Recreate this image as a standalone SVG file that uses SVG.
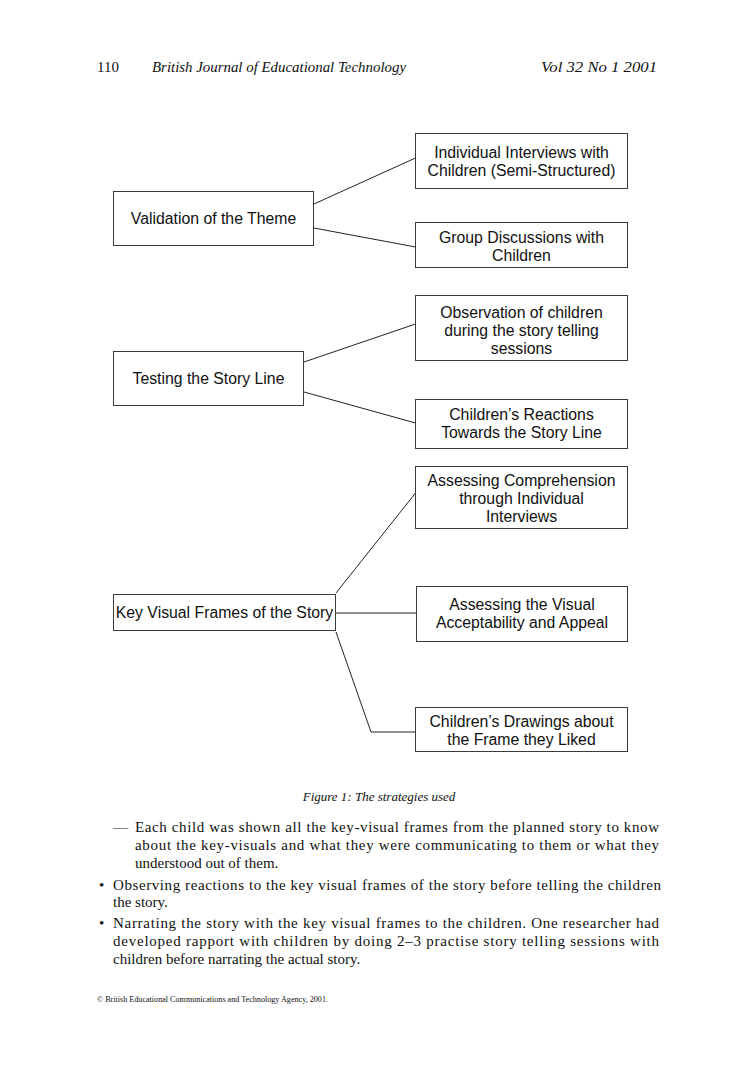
<svg xmlns="http://www.w3.org/2000/svg" width="754" height="1084" viewBox="0 0 754 1084">
<style>
.box{fill:#fff;stroke:#3a3a3a;stroke-width:1}
.lbl{font-family:"Liberation Sans",Arial,sans-serif;font-size:15.8px;fill:#111;text-anchor:middle}
.con{fill:none;stroke:#222;stroke-width:1}
.hd{font-family:"Liberation Serif","Times New Roman",serif;font-size:15px;fill:#111}
.it{font-style:italic}
.body{font-family:"Liberation Serif","Times New Roman",serif;font-size:15px;fill:#111}
</style>
<rect width="754" height="1084" fill="#fff"/>
<g id="header">
<text class="hd" x="97" y="72">110</text>
<text class="hd it" x="152" y="72" textLength="254" lengthAdjust="spacingAndGlyphs">British Journal of Educational Technology</text>
<text class="hd it" x="541" y="72" textLength="116" lengthAdjust="spacingAndGlyphs">Vol 32 No 1 2001</text>
</g>
<g id="connectors">
<line class="con" x1="314" y1="204" x2="415.5" y2="158"/>
<line class="con" x1="314" y1="228" x2="415.5" y2="247"/>
<line class="con" x1="304" y1="362" x2="415.5" y2="324"/>
<line class="con" x1="304" y1="392" x2="415.5" y2="423"/>
<line class="con" x1="336" y1="593" x2="415.5" y2="493"/>
<line class="con" x1="336" y1="613" x2="416.5" y2="613"/>
<polyline class="con" points="336,632 371,732 415.5,732"/>
</g>
<g id="n-validation">
<rect class="box" x="113.5" y="191.5" width="200" height="54"/>
<text class="lbl" x="213.5" y="224">Validation of the Theme</text>
</g>
<g id="n-individual">
<rect class="box" x="415.5" y="133.5" width="212" height="55"/>
<text class="lbl" x="521.5" y="158">Individual Interviews with</text>
<text class="lbl" x="521.5" y="176">Children (Semi-Structured)</text>
</g>
<g id="n-group">
<rect class="box" x="415.5" y="222.5" width="212" height="45"/>
<text class="lbl" x="521.5" y="243">Group Discussions with</text>
<text class="lbl" x="521.5" y="261">Children</text>
</g>
<g id="n-testing">
<rect class="box" x="113.5" y="351.5" width="190" height="54"/>
<text class="lbl" x="208.5" y="384">Testing the Story Line</text>
</g>
<g id="n-observation">
<rect class="box" x="415.5" y="295.5" width="212" height="65"/>
<text class="lbl" x="521.5" y="318">Observation of children</text>
<text class="lbl" x="521.5" y="336">during the story telling</text>
<text class="lbl" x="521.5" y="354">sessions</text>
</g>
<g id="n-reactions">
<rect class="box" x="415.5" y="399.5" width="212" height="49"/>
<text class="lbl" x="521.5" y="420">Children’s Reactions</text>
<text class="lbl" x="521.5" y="438">Towards the Story Line</text>
</g>
<g id="n-keyvisual">
<rect class="box" x="113.5" y="594.5" width="222" height="36"/>
<text class="lbl" x="224.5" y="618">Key Visual Frames of the Story</text>
</g>
<g id="n-comprehension">
<rect class="box" x="415.5" y="466.5" width="212" height="62"/>
<text class="lbl" x="521.5" y="486">Assessing Comprehension</text>
<text class="lbl" x="521.5" y="504">through Individual</text>
<text class="lbl" x="521.5" y="522">Interviews</text>
</g>
<g id="n-visual">
<rect class="box" x="416.5" y="586.5" width="211" height="55"/>
<text class="lbl" x="522" y="610">Assessing the Visual</text>
<text class="lbl" x="522" y="628">Acceptability and Appeal</text>
</g>
<g id="n-drawings">
<rect class="box" x="415.5" y="707.5" width="212" height="44"/>
<text class="lbl" x="521.5" y="727">Children’s Drawings about</text>
<text class="lbl" x="521.5" y="745">the Frame they Liked</text>
</g>
<g id="caption">
<text class="body it" x="379" y="801" text-anchor="middle" style="font-size:13px">Figure 1:  The strategies used</text>
</g>
<g id="body-text">
<text class="body" x="113" y="832">—</text>
<text class="body" x="135" y="832" textLength="524" lengthAdjust="spacing">Each child was shown all the key-visual frames from the planned story to know</text>
<text class="body" x="135" y="850" textLength="524" lengthAdjust="spacing">about the key-visuals and what they were communicating to them or what they</text>
<text class="body" x="135" y="868">understood out of them.</text>
<text class="body" x="99" y="890">•</text>
<text class="body" x="113" y="890" textLength="548" lengthAdjust="spacing">Observing reactions to the key visual frames of the story before telling the children</text>
<text class="body" x="113" y="907">the story.</text>
<text class="body" x="99" y="928">•</text>
<text class="body" x="113" y="928" textLength="546" lengthAdjust="spacing">Narrating the story with the key visual frames to the children. One researcher had</text>
<text class="body" x="113" y="946" textLength="546" lengthAdjust="spacing">developed rapport with children by doing 2–3 practise story telling sessions with</text>
<text class="body" x="113" y="964">children before narrating the actual story.</text>
</g>
<g id="footer">
<text class="body" x="97" y="1002" style="font-size:8.5px" textLength="231" lengthAdjust="spacingAndGlyphs">© British Educational Communications and Technology Agency, 2001.</text>
</g>
</svg>
